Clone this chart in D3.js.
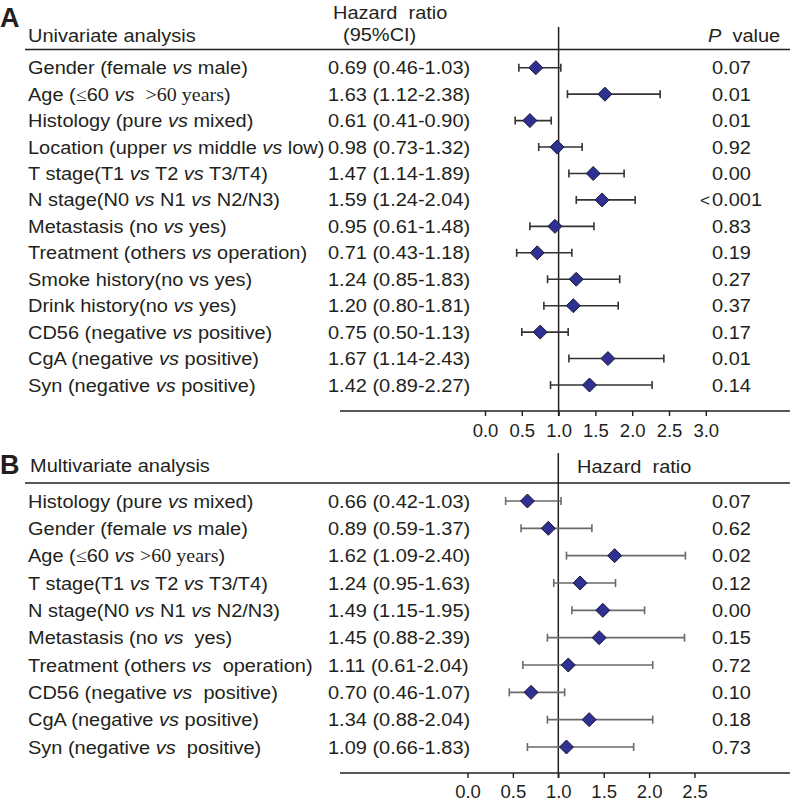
<!DOCTYPE html>
<html>
<head>
  <meta charset="UTF-8">
  <script src="https://d3js.org/d3.v7.min.js"></script>
</head>
<body style="margin:0;background:#fff">
  <svg id="forestSVG"></svg>
</body>
<style>
  #forestSVG text {
    font-family: 'Liberation Sans', Arial, sans-serif;
    fill: #231f20;
    white-space: pre;
  }
</style>
<script>
  // ---- data: univariate (A) ----
  const uniLabels = [
    "Gender (female *vs* male)",
    "Age ({≤}60 *vs*  {>60 years})",
    "Histology (pure *vs* mixed)",
    "Location (upper *vs* middle *vs* low)",
    "T stage(T1 *vs* T2 *vs* T3/T4)",
    "N stage(N0 *vs* N1 *vs* N2/N3)",
    "Metastasis (no *vs* yes)",
    "Treatment (others *vs* operation)",
    "Smoke history(no vs yes)",
    "Drink history(no *vs* yes)",
    "CD56 (negative *vs* positive)",
    "CgA (negative *vs* positive)",
    "Syn (negative *vs* positive)"
  ];
  const uniHR = [0.69, 1.63, 0.61, 0.98, 1.47, 1.59, 0.95, 0.71, 1.24, 1.20, 0.75, 1.67, 1.42];
  const uniLow = [0.46, 1.12, 0.41, 0.73, 1.14, 1.24, 0.61, 0.43, 0.85, 0.80, 0.50, 1.14, 0.89];
  const uniHigh = [1.03, 2.38, 0.90, 1.32, 1.89, 2.04, 1.48, 1.18, 1.83, 1.81, 1.13, 2.43, 2.27];
  const uniP = ["0.07", "0.01", "0.01", "0.92", "0.00", "<0.001", "0.83", "0.19", "0.27", "0.37", "0.17", "0.01", "0.14"];
  const uniTicks = [0, 0.5, 1, 1.5, 2, 2.5, 3];

  // ---- data: multivariate (B) ----
  const multiLabels = [
    "Histology (pure *vs* mixed)",
    "Gender (female *vs* male)",
    "Age ({≤}60 *vs* {>60 years})",
    "T stage(T1 *vs* T2 *vs* T3/T4)",
    "N stage(N0 *vs* N1 *vs* N2/N3)",
    "Metastasis (no *vs*  yes)",
    "Treatment (others *vs*  operation)",
    "CD56 (negative *vs*  positive)",
    "CgA (negative *vs* positive)",
    "Syn (negative *vs*  positive)"
  ];
  const multiHR = [0.66, 0.89, 1.62, 1.24, 1.49, 1.45, 1.11, 0.70, 1.34, 1.09];
  const multiLow = [0.42, 0.59, 1.09, 0.95, 1.15, 0.88, 0.61, 0.46, 0.88, 0.66];
  const multiHigh = [1.03, 1.37, 2.40, 1.63, 1.95, 2.39, 2.04, 1.07, 2.04, 1.83];
  const multiP = ["0.07", "0.62", "0.02", "0.12", "0.00", "0.15", "0.72", "0.10", "0.18", "0.73"];
  const multiTicks = [0, 0.5, 1, 1.5, 2, 2.5];

  const W = 790, H = 803;
  const SX = 1.08;            // text looks horizontally stretched in the original
  const FS = 18.5;
  const ink = "#231f20";
  const serif = "'Liberation Serif', 'Times New Roman', serif";

  const svg = d3.select('#forestSVG').attr('width', W).attr('height', H);

  // text with *italic* and {serif} parts
  function richText(g, x, y, str, opts = {}) {
    const t = g.append('text')
      .attr('transform', `translate(${x},${y}) scale(${SX},1)`)
      .attr('font-size', opts.size || FS)
      .attr('text-anchor', opts.anchor || 'start');
    if (opts.weight) t.attr('font-weight', opts.weight);
    str.split(/(\*[^*]+\*|\{[^}]+\})/).filter(s => s).forEach(seg => {
      const ts = t.append('tspan');
      if (seg[0] === '*') ts.attr('font-style', 'italic').text(seg.slice(1, -1));
      else if (seg[0] === '{') ts.style('font-family', serif).text(seg.slice(1, -1));
      else ts.text(seg);
    });
    return t;
  }

  function hline(y, x1, x2, w) {
    svg.append('line').attr('x1', x1).attr('x2', x2).attr('y1', y).attr('y2', y)
      .attr('stroke', ink).attr('stroke-width', w || 1.4);
  }

  function drawPanel(p) {
    const x = d3.scaleLinear().domain([0, p.ticks[p.ticks.length - 1]]).range(p.xRange);
    const y = d3.scalePoint().domain(d3.range(p.labels.length)).range(p.yRange);
    const g = svg.append('g');

    // reference line at HR = 1
    g.append('line')
      .attr('x1', x(1)).attr('x2', x(1))
      .attr('y1', p.refTop).attr('y2', p.axisY + 5)
      .attr('stroke', ink).attr('stroke-width', 1.5);

    // header rule + bottom axis line
    hline(p.ruleY, 25, W, 1.5);
    hline(p.axisY, 340, W, 1.4);

    const axis = d3.axisBottom(x)
      .tickValues(p.ticks)
      .tickSize(5)
      .tickPadding(p.tickPad)
      .tickFormat(d3.format('.1f'));
    const ax = g.append('g').attr('transform', `translate(0,${p.axisY})`).call(axis);
    ax.select('.domain').remove();
    ax.selectAll('.tick line').attr('stroke', ink).attr('stroke-width', 1.4);
    ax.selectAll('.tick text')
      .attr('fill', ink)
      .style('font-size', '18.5px')
      .style('font-family', "'Liberation Sans', Arial, sans-serif");

    p.labels.forEach((lab, i) => {
      const cy = y(i);
      const base = cy + 6.5;
      richText(g, 28, base, lab);
      const ci = `${p.hr[i].toFixed(2)} (${p.low[i].toFixed(2)}-${p.high[i].toFixed(2)})`;
      richText(g, 328, base, ci);
      const pv = p.pval[i];
      if (pv[0] === '<') {
        richText(g, 700, base, '<', { size: 16 });
        richText(g, 712, base, pv.slice(1));
      } else {
        richText(g, 712, base, pv);
      }

      // whisker
      const wg = g.append('g').attr('stroke', p.whisker).attr('stroke-width', 1.6);
      wg.append('line').attr('x1', x(p.low[i])).attr('x2', x(p.high[i]))
        .attr('y1', cy).attr('y2', cy);
      [p.low[i], p.high[i]].forEach(v => {
        wg.append('line').attr('x1', x(v)).attr('x2', x(v))
          .attr('y1', cy - 4).attr('y2', cy + 4);
      });

      // diamond
      const r = 7;
      const cx = x(p.hr[i]);
      g.append('path')
        .attr('d', `M${cx},${cy - r}L${cx + r},${cy}L${cx},${cy + r}L${cx - r},${cy}Z`)
        .attr('fill', '#2e3192')
        .attr('stroke', '#1a1a2e')
        .attr('stroke-width', 1);
    });
  }

  // ---- panel A ----
  richText(svg, 0, 27, 'A', { size: 27, weight: 'bold' }).attr('transform', 'translate(0,27)');
  richText(svg, 28, 42, 'Univariate analysis');
  richText(svg, 333, 18.5, 'Hazard  ratio');
  richText(svg, 343, 41, '(95%CI)');
  richText(svg, 708, 41.5, '*P*  value');

  drawPanel({
    labels: uniLabels, hr: uniHR, low: uniLow, high: uniHigh, pval: uniP, ticks: uniTicks,
    xRange: [485, 705.8], yRange: [67.7, 385],
    refTop: 27, ruleY: 49.5, axisY: 411, tickPad: 8, whisker: '#333'
  });

  // ---- panel B ----
  richText(svg, 0, 474, 'B', { size: 27, weight: 'bold' }).attr('transform', 'translate(0,474)');
  richText(svg, 30, 472, 'Multivariate analysis');
  richText(svg, 577, 473, 'Hazard  ratio');

  drawPanel({
    labels: multiLabels, hr: multiHR, low: multiLow, high: multiHigh, pval: multiP, ticks: multiTicks,
    xRange: [467.5, 694.5], yRange: [501, 747],
    refTop: 453, ruleY: 483, axisY: 773, tickPad: 7, whisker: '#6a6a6a'
  });
</script>
</html>
